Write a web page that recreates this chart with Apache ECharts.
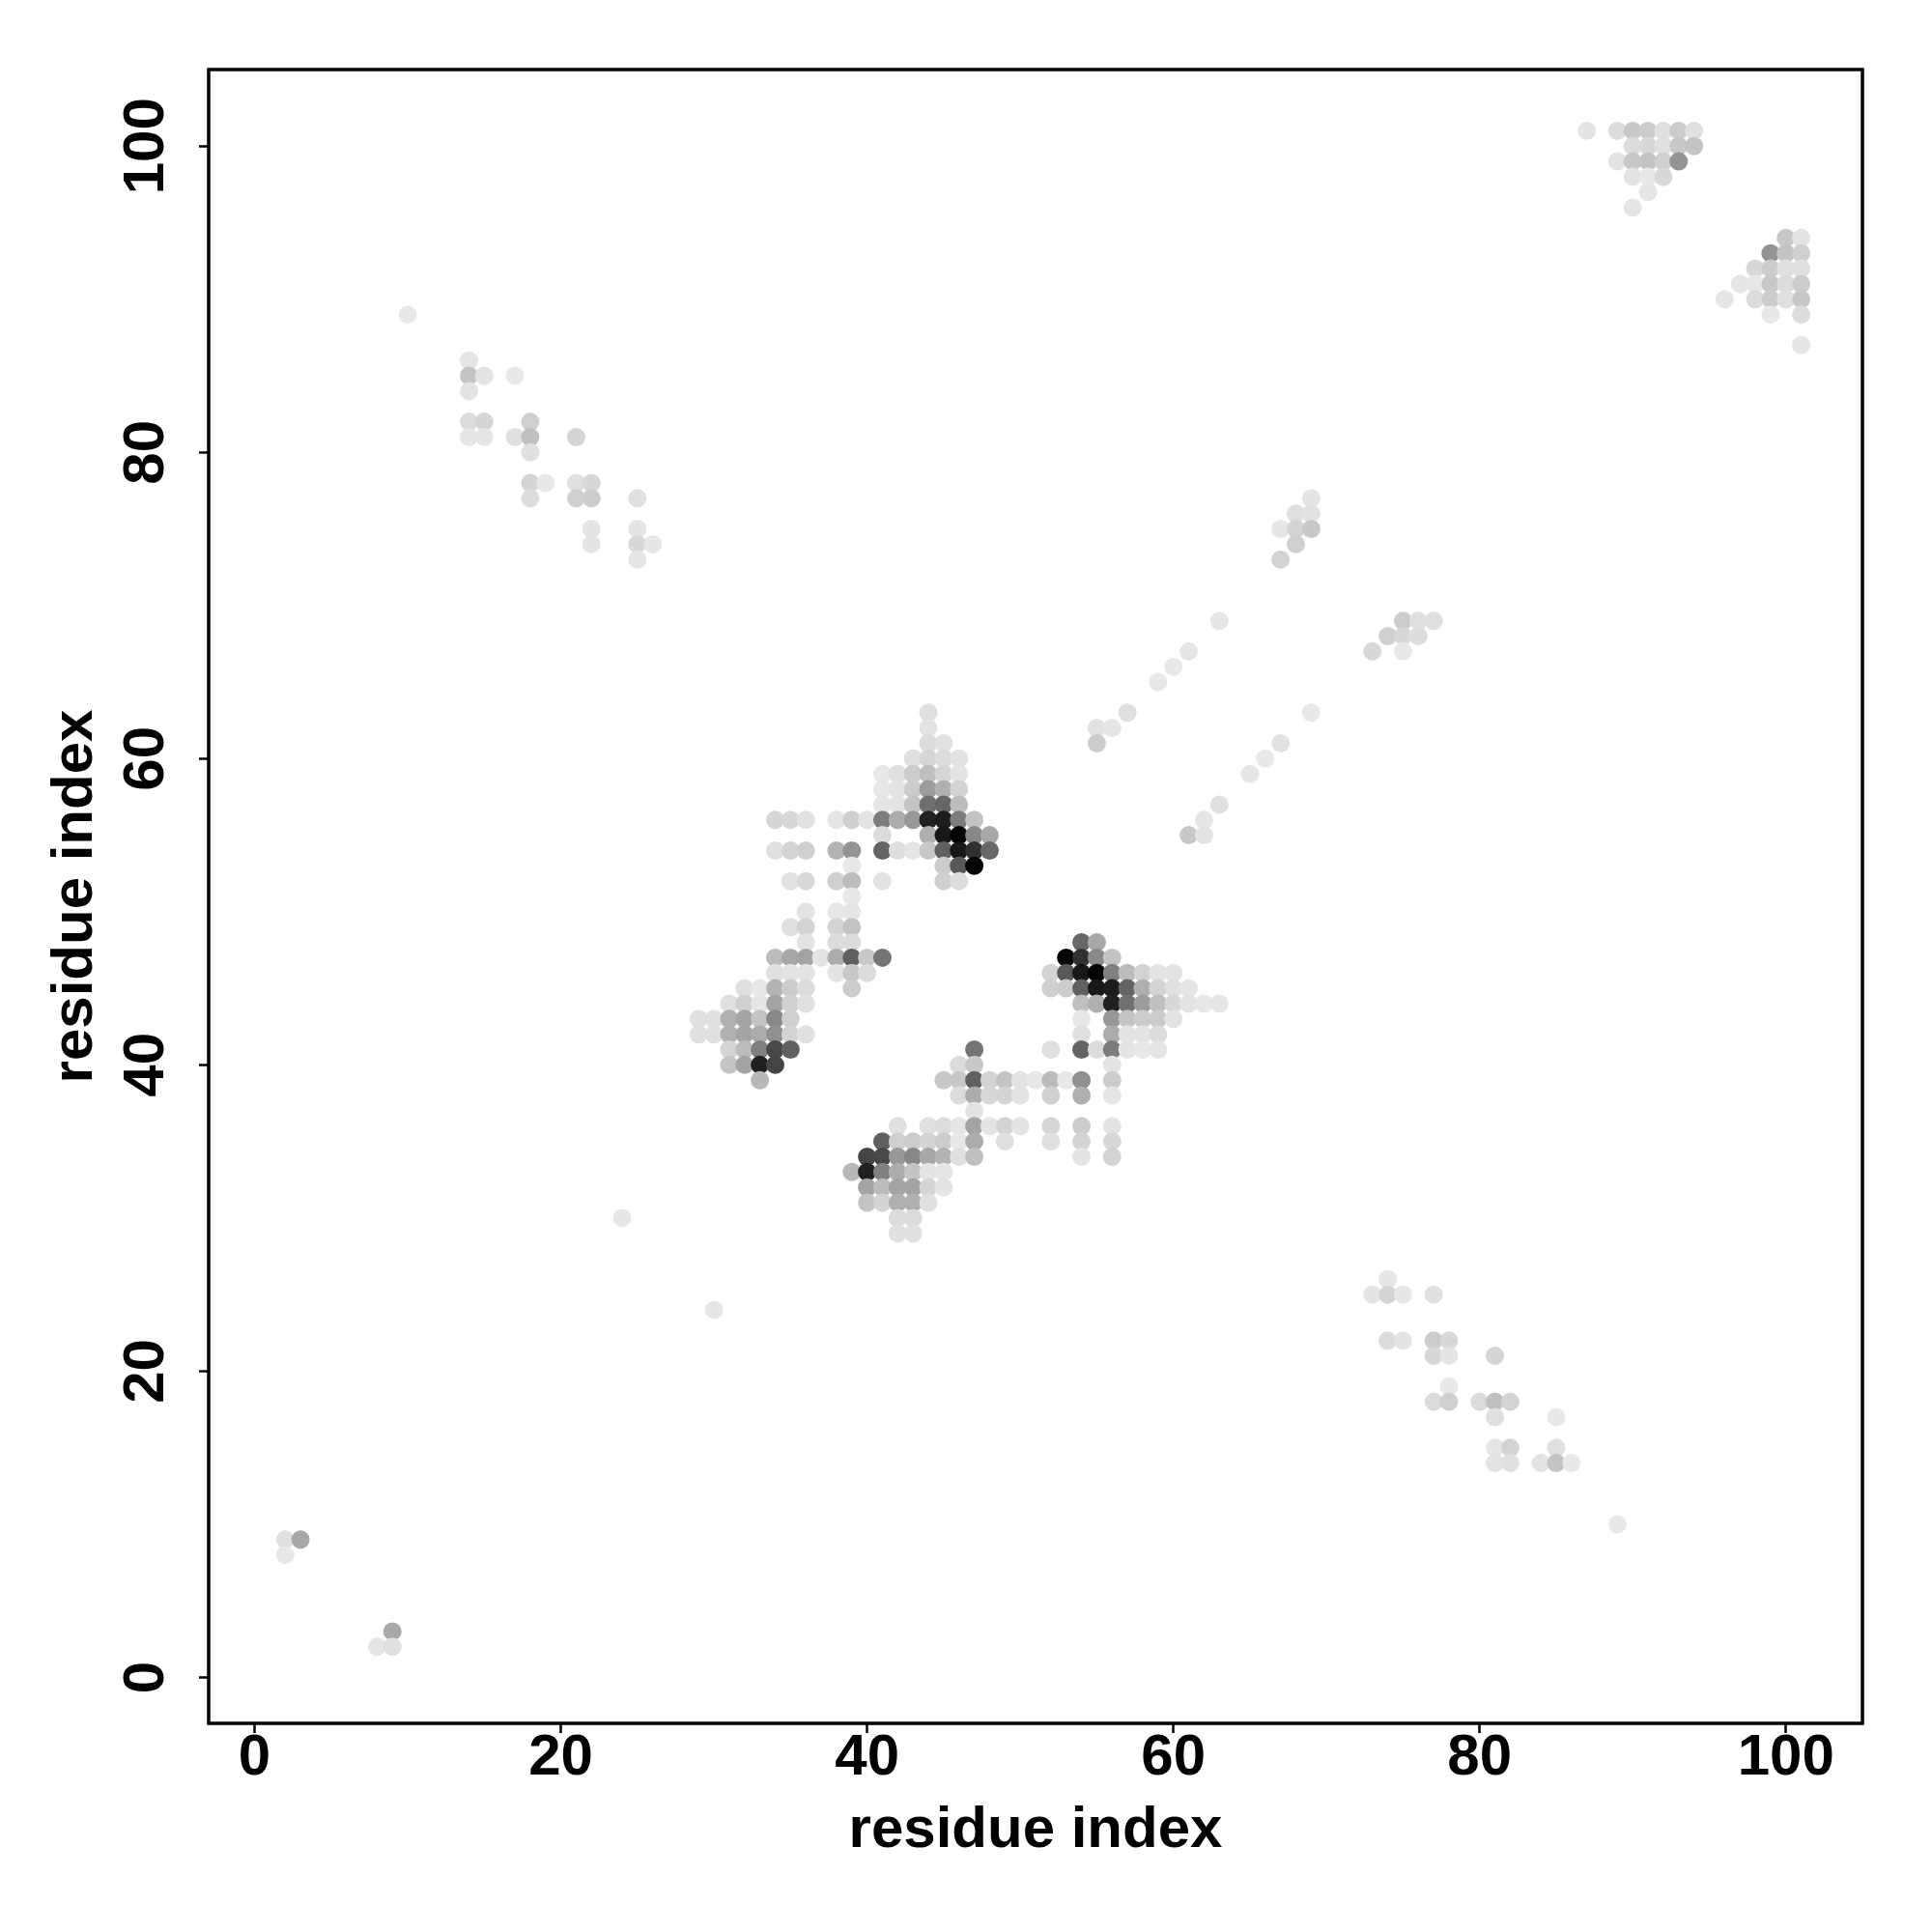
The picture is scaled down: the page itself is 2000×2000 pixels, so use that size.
<!DOCTYPE html>
<html>
<head>
<meta charset="utf-8">
<style>html,body{margin:0;padding:0;background:#fff}#c{width:2000px;height:2000px}</style>
<script src="https://cdn.jsdelivr.net/npm/echarts@6/dist/echarts.min.js"></script>
</head>
<body>
<div id="c"></div>
<script>
// [residue x, residue y, grey level 0 = black .. 255 = white]
const tickValues = [0, 20, 40, 60, 80, 100];
const axisTitle = 'residue index';

const cornerLow = [[2,9,224],[3,9,168],[2,8,232],[9,3,168],[8,2,230],[9,2,224]];
const isolated = [[10,89,232],[89,10,232],[24,30,230],[30,24,230]];

const sheetUpperLeft = [
[14,86,230],[14,85,196],[15,85,228],[17,85,232],[14,84,228],
[14,82,220],[15,82,212],[18,82,208],[14,81,230],[15,81,230],[17,81,224],[18,81,192],[21,81,212],
[18,80,224],[18,78,212],[19,78,232],[21,78,224],[22,78,216],[18,77,220],[21,77,208],[22,77,204],[25,77,224],
[22,75,228],[25,75,228],[22,74,228],[25,74,216],[26,74,230],[25,73,230]];

const sheetLowerRight = [
[74,26,230],[73,25,228],[74,25,212],[75,25,230],[77,25,224],
[74,22,220],[75,22,228],[77,22,204],[78,22,216],[77,21,216],[78,21,228],[81,21,212],
[78,19,232],[77,18,220],[78,18,208],[80,18,220],[81,18,192],[82,18,212],[81,17,224],[85,17,232],
[81,15,230],[82,15,212],[85,15,224],[81,14,228],[82,14,224],[84,14,228],[85,14,196],[86,14,232]];

const topRightA = [
[87,101,228],[89,101,220],[90,101,200],[91,101,204],[92,101,224],[93,101,204],[94,101,224],
[90,100,220],[91,100,216],[92,100,224],[93,100,200],[94,100,196],
[89,99,228],[90,99,200],[91,99,196],[92,99,208],[93,99,148],
[90,98,228],[91,98,232],[92,98,216],[91,97,230],[90,96,230]];

const topRightB = [
[100,94,200],[101,94,228],[99,93,148],[100,93,196],[101,93,208],
[98,92,216],[99,92,204],[100,92,224],[101,92,224],
[97,91,230],[98,91,232],[99,91,200],[100,91,220],[101,91,204],
[96,90,230],[98,90,220],[99,90,204],[100,90,224],[101,90,200],
[99,89,232],[101,89,220],[101,87,230]];

const strandUpper = [
[69,77,228],[68,76,224],[69,76,226],[67,75,230],[68,75,212],[69,75,200],[68,74,208],[67,73,212],
[63,69,230],[61,67,230],[60,66,232],[59,65,232],[57,63,224],[55,62,226],[56,62,230],[55,61,204]];

const strandLower = [
[75,69,204],[76,69,224],[77,69,224],[74,68,208],[75,68,216],[76,68,220],[73,67,216],[75,67,232],
[69,63,232],[67,61,226],[66,60,232],[65,59,230],[63,57,224],[62,56,230],[61,55,200],[62,55,228]];

const coreUpper = [
[44,63,224],[44,62,228],[44,61,220],[45,61,226],
[43,60,224],[44,60,214],[45,60,220],[46,60,226],
[41,59,232],[42,59,224],[43,59,204],[44,59,192],[45,59,214],[46,59,228],
[41,58,232],[42,58,228],[43,58,204],[44,58,156],[45,58,176],[46,58,212],
[41,57,230],[42,57,228],[43,57,196],[44,57,112],[45,57,102],[46,57,188],
[34,56,214],[35,56,216],[36,56,226],[38,56,230],[39,56,207],[40,56,228],[41,56,124],[42,56,172],[43,56,152],[44,56,32],[45,56,28],[46,56,124],[47,56,196],
[41,55,220],[44,55,176],[45,55,24],[46,55,4],[47,55,136],[48,55,168],
[34,54,224],[35,54,212],[36,54,208],[38,54,180],[39,54,148],[41,54,100],[42,54,222],[43,54,230],[44,54,200],[45,54,96],[46,54,24],[47,54,48],[48,54,104],
[39,53,232],[45,53,204],[46,53,88],[47,53,6],
[35,52,226],[36,52,216],[38,52,208],[39,52,188],[41,52,228],[45,52,208],[46,52,220],
[39,51,232],[36,50,228],[38,50,232],[39,50,230],
[35,49,224],[36,49,212],[38,49,212],[39,49,196],
[36,48,228],[38,48,220],[39,48,220],
[34,47,188],[35,47,168],[36,47,164],[37,47,228],[38,47,172],[39,47,96],[40,47,200],[41,47,116],
[34,46,224],[35,46,228],[36,46,228],[38,46,228],[39,46,200],[40,46,220],
[32,45,224],[33,45,232],[34,45,180],[35,45,204],[36,45,220],[39,45,204],
[31,44,224],[32,44,208],[33,44,230],[34,44,164],[35,44,208],[36,44,224],
[29,43,224],[30,43,224],[31,43,176],[32,43,164],[33,43,196],[34,43,136],[35,43,208],
[29,42,224],[30,42,224],[31,42,176],[32,42,164],[33,42,172],[34,42,144],[35,42,212],[36,42,224],
[31,41,212],[32,41,188],[33,41,128],[34,41,72],[35,41,96],
[31,40,196],[32,40,164],[33,40,32],[34,40,68],[33,39,184]];

const coreLower = [
[54,48,104],[55,48,168],
[53,47,6],[54,47,48],[55,47,136],[56,47,196],
[52,46,212],[53,46,88],[54,46,24],[55,46,4],[56,46,128],[57,46,188],[58,46,212],[59,46,228],[60,46,228],
[52,45,208],[53,45,204],[54,45,96],[55,45,24],[56,45,28],[57,45,100],[58,45,176],[59,45,212],[60,45,224],[61,45,230],
[54,44,192],[55,44,176],[56,44,32],[57,44,112],[58,44,156],[59,44,192],[60,44,216],[61,44,228],[62,44,232],[63,44,230],
[54,43,232],[56,43,152],[57,43,196],[58,43,204],[59,43,204],[60,43,228],
[54,42,224],[56,42,172],[57,42,228],[58,42,228],[59,42,220],
[47,41,116],[52,41,224],[54,41,100],[55,41,220],[56,41,124],[57,41,228],[58,41,232],[59,41,230],
[46,40,220],[47,40,200],[56,40,228],
[45,39,200],[46,39,200],[47,39,96],[48,39,212],[49,39,196],[50,39,228],[51,39,232],[52,39,188],[53,39,232],[54,39,144],[56,39,204],
[46,38,220],[47,38,172],[48,38,216],[49,38,212],[50,38,228],[52,38,208],[54,38,176],[56,38,230],
[47,37,228],
[42,36,224],[44,36,224],[45,36,220],[46,36,230],[47,36,164],[48,36,228],[49,36,212],[50,36,228],[52,36,214],[54,36,204],[56,36,228],
[41,35,96],[42,35,208],[43,35,204],[44,35,212],[45,35,204],[46,35,232],[47,35,172],[49,35,224],[52,35,224],[54,35,212],[56,35,216],
[40,34,68],[41,34,72],[42,34,152],[43,34,136],[44,34,168],[45,34,180],[46,34,224],[47,34,192],[54,34,228],[56,34,212],
[39,33,184],[40,33,32],[41,33,128],[42,33,172],[43,33,196],[44,33,228],[45,33,230],
[40,32,164],[41,32,188],[42,32,164],[43,32,164],[44,32,212],[45,32,228],
[40,31,196],[41,31,212],[42,31,176],[43,31,176],[44,31,224],
[42,30,220],[43,30,220],[42,29,224],[43,29,224]];

const points = [].concat(cornerLow, isolated, sheetUpperLeft, sheetLowerRight, topRightA, topRightB,
  strandUpper, strandLower, coreUpper, coreLower);

const font = 'Liberation Sans';
function axis(extra) {
  return Object.assign({
    type: 'value', min: -3, max: 105, splitLine: {show: false},
    axisLine: {show: false, onZero: false},
    axisTick: {show: true, customValues: tickValues, length: 10, lineStyle: {color: '#000', width: 2.5}},
    name: axisTitle, nameLocation: 'middle',
    nameTextStyle: {fontFamily: font, fontWeight: 'bold', fontSize: 60, color: '#000'}
  }, extra);
}
const chart = echarts.init(document.getElementById('c'), null, {renderer: 'canvas'});
chart.setOption({
  animation: false,
  backgroundColor: '#fff',
  grid: {left: 216, top: 72, width: 1712, height: 1712, show: true, borderColor: '#000', borderWidth: 3.5, backgroundColor: 'transparent'},
  xAxis: axis({
    nameGap: 81,
    axisLabel: {customValues: tickValues, fontFamily: font, fontWeight: 'bold', fontSize: 60, color: '#000', margin: 6, hideOverlap: false, showMinLabel: true, showMaxLabel: true}
  }),
  yAxis: axis({
    nameGap: 108,
    nameRotate: 90,
    axisLabel: {customValues: tickValues, rotate: 90, fontFamily: font, fontWeight: 'bold', fontSize: 60, color: '#000', margin: 34, hideOverlap: false, showMinLabel: true, showMaxLabel: true}
  }),
  visualMap: {show: false, type: 'continuous', dimension: 2, min: 0, max: 255, inRange: {color: ['#000000', '#ffffff']}},
  series: [{type: 'scatter', data: points, symbol: 'circle', symbolSize: 19, itemStyle: {opacity: 1}, z: 1, silent: true}]
});
</script>
</body>
</html>
